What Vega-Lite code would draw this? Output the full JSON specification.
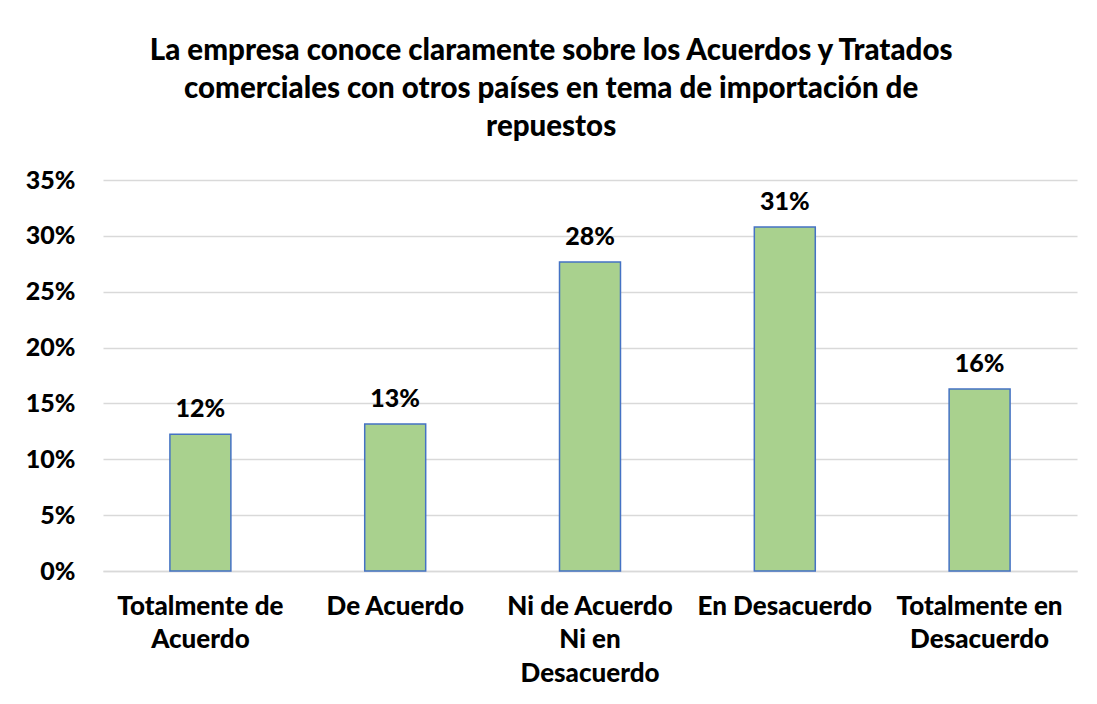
{
  "$schema": "https://vega.github.io/schema/vega-lite/v6.json",
  "autosize": {"type": "none"},
  "width": 974,
  "height": 391,
  "padding": {"left": 103, "top": 180, "right": 20, "bottom": 133},
  "background": "#ffffff",
  "title": {
    "text": ["La empresa conoce claramente sobre los Acuerdos y Tratados", "comerciales con otros países en tema de importación de", "repuestos"],
    "font": "Lato",
    "fontSize": 29.5,
    "fontWeight": 900,
    "color": "#000000",
    "lineHeight": 38,
    "anchor": "middle",
    "frame": "bounds",
    "offset": 26
  },
  "data": {
    "values": [
      {"categoria": "Totalmente de Acuerdo", "porcentaje": 0.1225},
      {"categoria": "De Acuerdo", "porcentaje": 0.1315},
      {"categoria": "Ni de Acuerdo Ni en Desacuerdo", "porcentaje": 0.2765},
      {"categoria": "En Desacuerdo", "porcentaje": 0.308},
      {"categoria": "Totalmente en Desacuerdo", "porcentaje": 0.163}
    ]
  },
  "encoding": {
    "x": {
      "field": "categoria",
      "type": "nominal",
      "sort": null,
      "title": null,
      "scale": {"paddingInner": 0.687, "paddingOuter": 0.3435},
      "axis": {
        "labelAngle": 0,
        "labelFont": "Lato",
        "labelFontSize": 26,
        "labelFontWeight": 900,
        "labelColor": "#000000",
        "labelLineHeight": 33.5,
        "labelPadding": 22,
        "labelBaseline": "top",
        "labelLimit": 300,
        "ticks": false,
        "domainColor": "#d9d9d9",
        "domainWidth": 1.5,
        "labelExpr": "datum.value == 'Totalmente de Acuerdo' ? ['Totalmente de', 'Acuerdo'] : datum.value == 'Ni de Acuerdo Ni en Desacuerdo' ? ['Ni de Acuerdo', 'Ni en', 'Desacuerdo'] : datum.value == 'Totalmente en Desacuerdo' ? ['Totalmente en', 'Desacuerdo'] : datum.value"
      }
    },
    "y": {
      "field": "porcentaje",
      "type": "quantitative",
      "title": null,
      "scale": {"domain": [0, 0.35], "nice": false},
      "axis": {
        "values": [0, 0.05, 0.1, 0.15, 0.2, 0.25, 0.3, 0.35],
        "format": ".0%",
        "labelFont": "Lato",
        "labelFontSize": 25,
        "labelFontWeight": 900,
        "labelColor": "#000000",
        "labelPadding": 28,
        "ticks": false,
        "domain": false,
        "grid": true,
        "gridColor": "#d9d9d9",
        "gridWidth": 1.5
      }
    }
  },
  "layer": [
    {
      "mark": {"type": "bar", "color": "#a9d18e", "stroke": "#4472c4", "strokeWidth": 1.5}
    },
    {
      "mark": {"type": "text", "font": "Lato", "fontSize": 25, "fontWeight": 900, "color": "#000000", "baseline": "alphabetic", "dy": -17},
      "encoding": {
        "text": {"field": "porcentaje", "type": "quantitative", "format": ".0%"}
      }
    }
  ],
  "config": {"view": {"stroke": null}}
}
